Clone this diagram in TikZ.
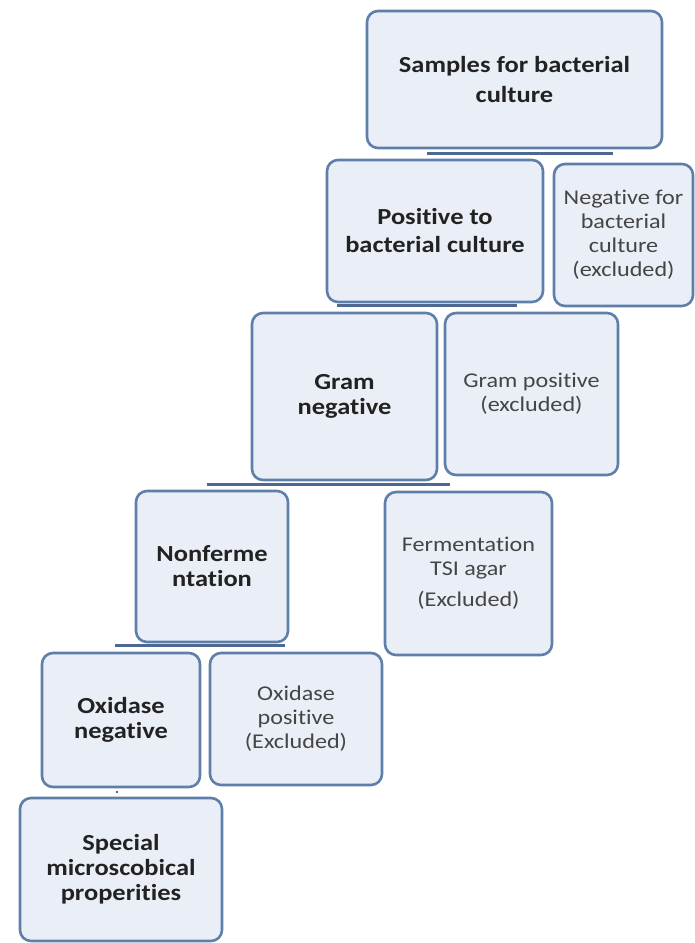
\documentclass[tikz,border=0pt]{standalone}
\usepackage{fontspec}
\setmainfont[FakeStretch=1.15,Ligatures=NoCommon]{Carlito}
\definecolor{boxfill}{HTML}{EAEEF6}
\definecolor{boxline}{HTML}{5E7FAA}
\definecolor{barcol}{HTML}{4E6991}
\definecolor{boldtxt}{HTML}{222222}
\definecolor{normtxt}{HTML}{454545}
\tikzset{
  bx/.style={draw=boxline, fill=boxfill, line width=2.6pt, rounded corners=11pt,
    inner sep=2pt, align=center},
  bold/.style={bx, font=\fontsize{23}{25}\selectfont\bfseries, text=boldtxt},
  norm/.style={bx, font=\fontsize{21}{24}\selectfont, text=normtxt},
  bar/.style={draw=barcol, line width=2.6pt},
}
\begin{document}
\begin{tikzpicture}[x=1pt,y=-1pt]
\useasboundingbox (0,0) rectangle (695,943);
\node[bold, font=\fontsize{23}{30}\selectfont\bfseries, minimum width=295pt, minimum height=137pt] (s) at (514.5,79.5) {Samples for bacterial\\culture};
\node[bold, font=\fontsize{23}{28}\selectfont\bfseries, minimum width=216pt, minimum height=142pt] (p) at (435,231) {Positive to\\bacterial culture};
\node[norm, minimum width=139pt, minimum height=142pt] (nb) at (623.5,235) {Negative for\\bacterial\\culture\\(excluded)};
\node[bold, minimum width=185pt, minimum height=167pt] (g) at (344.5,396.5) {Gram\\negative};
\node[norm, minimum width=173pt, minimum height=162pt] (gp) at (531.5,394) {Gram positive\\(excluded)};
\node[bold, minimum width=152pt, minimum height=151pt] (n) at (212,566.5) {Nonferme\\ntation};
\node[norm, minimum width=167pt, minimum height=163pt] (f) at (468.5,573.5) {Fermentation\\TSI agar\\[7pt](Excluded)};
\node[bold, minimum width=158pt, minimum height=134pt] (o) at (121,720) {Oxidase\\negative};
\node[norm, minimum width=172pt, minimum height=132pt] (op) at (296,719) {Oxidase\\positive\\(Excluded)};
\node[bold, minimum width=202pt, minimum height=143pt] (sp) at (121,869.5) {Special\\microscobical\\properities};
% connector bars
\draw[bar] ([xshift=-87.5pt,yshift=-4pt]s.south) -- ([xshift=98.5pt,yshift=-4pt]s.south);
\draw[bar] ([xshift=-98pt,yshift=-2pt]p.south) -- ([xshift=82pt,yshift=-2pt]p.south);
\draw[bar] ([xshift=-137.5pt,yshift=-3pt]g.south) -- ([xshift=105.5pt,yshift=-3pt]g.south);
\draw[bar] ([xshift=-97pt,yshift=-2pt]n.south) -- ([xshift=73pt,yshift=-2pt]n.south);
\draw[bar, line width=2pt] ([xshift=-5pt,yshift=-4pt]o.south) -- ([xshift=-3pt,yshift=-4pt]o.south);
\end{tikzpicture}
\end{document}
